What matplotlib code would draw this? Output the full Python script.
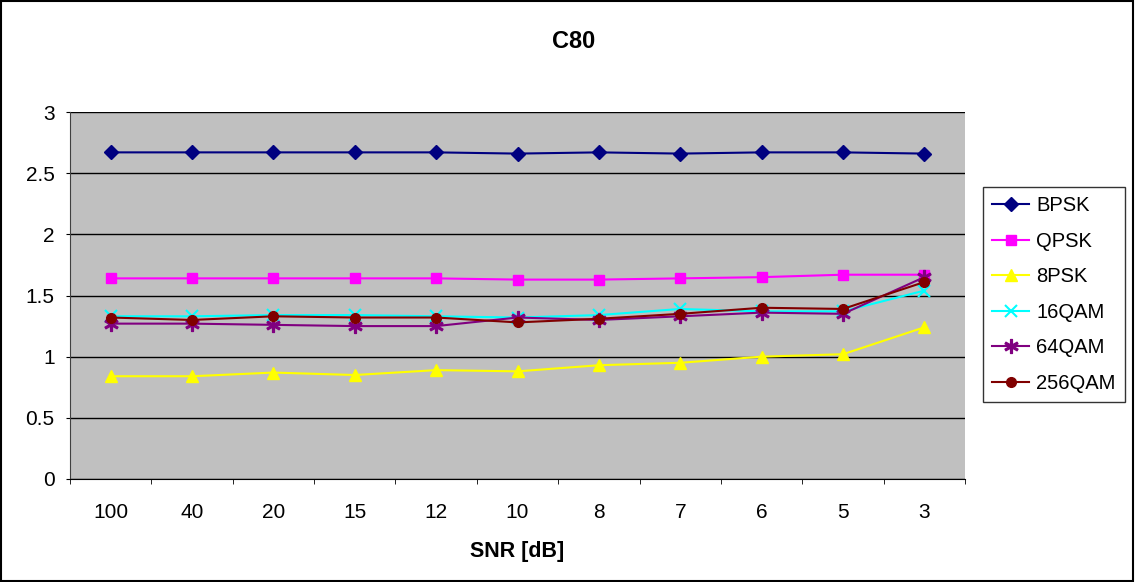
import numpy as np
import matplotlib
matplotlib.use("Agg")
import matplotlib.pyplot as plt
from matplotlib.patches import Rectangle

plt.rcParams['font.family'] = ['Liberation Sans', 'DejaVu Sans']

snr = ["100", "40", "20", "15", "12", "10", "8", "7", "6", "5", "3"]

bpsk = [2.67, 2.67, 2.67, 2.67, 2.67, 2.66, 2.67, 2.66, 2.67, 2.67, 2.66]
qpsk = [1.64, 1.64, 1.64, 1.64, 1.64, 1.63, 1.63, 1.64, 1.65, 1.67, 1.67]
psk8 = [0.84, 0.84, 0.87, 0.85, 0.89, 0.88, 0.93, 0.95, 1.00, 1.02, 1.24]
qam16 = [1.33, 1.33, 1.34, 1.34, 1.33, 1.32, 1.34, 1.39, 1.37, 1.37, 1.54]
qam64 = [1.27, 1.27, 1.26, 1.25, 1.25, 1.32, 1.30, 1.33, 1.36, 1.35, 1.65]
qam256 = [1.32, 1.30, 1.33, 1.32, 1.32, 1.28, 1.31, 1.35, 1.40, 1.39, 1.61]

series = [
    ("BPSK", bpsk, "#000080", "D", 7),
    ("QPSK", qpsk, "#ff00ff", "s", 7),
    ("8PSK", psk8, "#ffff00", "^", 8),
    ("16QAM", qam16, "#00ffff", "x", 8),
    ("64QAM", qam64, "#800080", "$\\ast$", 10),
    ("256QAM", qam256, "#800000", "o", 7),
]

fig = plt.figure(figsize=(11.35, 5.82), dpi=100)
ax = fig.add_axes([70/1135, 1 - 479/582, 895/1135, 367/582])
ax.set_facecolor("#c0c0c0")

x = np.arange(len(snr))
for name, vals, col, mk, ms in series:
    mew = 1.5 if mk == "x" else 1
    ax.plot(x, vals, color=col, marker=mk, markersize=ms, linewidth=1.5,
            markeredgewidth=mew, label=name)

ax.set_xlim(-0.5, len(snr) - 0.5)
ax.set_ylim(0, 3)
ax.set_yticks(np.arange(0, 3.01, 0.5))
ax.set_yticklabels(["0", "0.5", "1", "1.5", "2", "2.5", "3"])
ax.yaxis.grid(True, color="black", linewidth=1)
ax.set_axisbelow(True)

ax.set_xticks(x)
ax.set_xticklabels(snr)
ax.set_xticks(np.arange(-0.5, len(snr)), minor=True)
ax.tick_params(axis="x", which="major", length=0, pad=17, labelsize=15)
ax.tick_params(axis="x", which="minor", length=3.5, direction="out")
ax.tick_params(axis="y", length=3, direction="out", labelsize=15, pad=8)

for s in ["top", "right"]:
    ax.spines[s].set_visible(False)
ax.spines["left"].set_color("#404040")
ax.spines["bottom"].set_color("black")

ax.set_xlabel("SNR [dB]", fontsize=15.5, fontweight="bold", labelpad=14)
fig.text(574/1135, 1 - 42/582, "C80", ha="center", va="center",
         fontsize=17, fontweight="bold")

leg = ax.legend(loc="upper left", bbox_to_anchor=(983/1135, 1 - 187/582),
                bbox_transform=fig.transFigure, fontsize=14.5, frameon=True,
                fancybox=False, edgecolor="black", borderpad=0.45,
                labelspacing=0.82, handlelength=1.85, handletextpad=0.35,
                borderaxespad=0)
leg.get_frame().set_linewidth(1)

fig.patches.append(Rectangle((0.001, 0.002), 0.997, 0.996, transform=fig.transFigure,
                             fill=False, edgecolor="black", linewidth=1.5))

fig.savefig("out.png", dpi=100)
